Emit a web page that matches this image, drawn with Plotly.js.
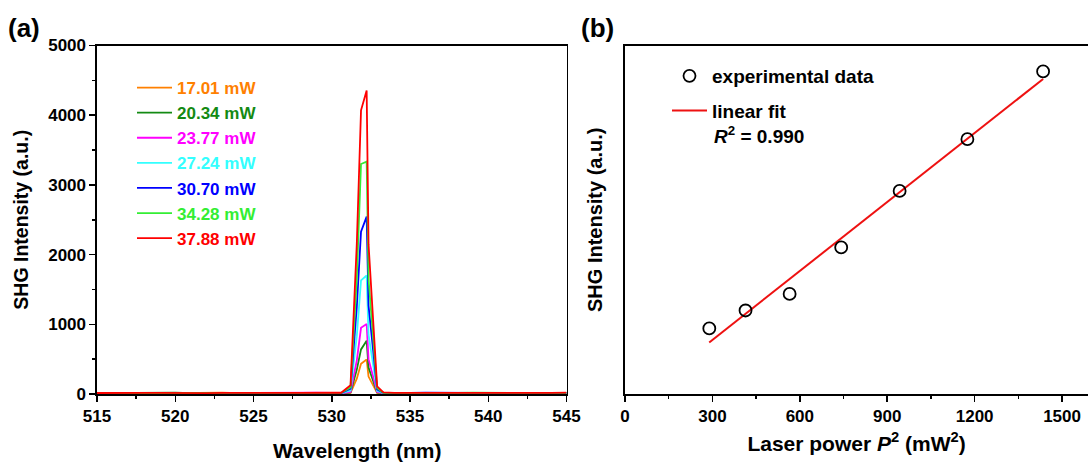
<!DOCTYPE html>
<html>
<head>
<meta charset="utf-8">
<script src="https://cdn.plot.ly/plotly-3.0.1.min.js"></script>
<style>html,body{margin:0;padding:0;background:#fff;}#chart{width:1088px;height:466px;}</style>
</head>
<body>
<div id="chart"></div>
<script>
// ---------- Panel (a): SHG spectra ----------
const wavelength = [515,516,517,518,519,520,521,522,523,524,525,526,527,528,529,530,
  530.6,531.2,531.6,531.87,532.23,532.35,532.9,533.3,
  534,535,536,537,538,539,540,541,542,543,544,545];

const powerLabels = ["17.01 mW","20.34 mW","23.77 mW","27.24 mW","30.70 mW","34.28 mW","37.88 mW"];
const seriesColors = ["#ff8000","#138a13","#ff00ff","#33ffff","#0000ff","#33ee33","#ff0000"];

const spec1701 = [14,16,12,18,15,13,17,14,19,12,16,15,13,18,14,16, 9,16,220,435,495,250,16,10, 15,13,17,12,16,14,18,13,15,17,12,14];
const spec2034 = [12,15,17,13,16,18,12,15,14,17,13,16,18,14,15,13, 10,22,350,640,765,380,22,12, 14,17,12,16,13,15,17,14,16,12,15,13];
const spec2377 = [16,13,15,17,12,14,18,13,16,15,17,12,14,16,18,15, 10,30,480,950,1003,500,28,12, 13,16,15,18,12,17,14,16,13,18,15,16];
const spec2724 = [13,17,14,12,18,15,13,17,12,16,14,18,15,13,16,14, 12,50,830,1630,1700,850,45,14, 17,12,16,14,18,13,15,12,17,14,16,15];
const spec3070 = [15,12,18,14,13,17,16,12,15,18,13,14,17,15,12,16, 14,75,1250,2330,2545,1270,65,16, 12,15,18,13,16,14,12,17,15,13,18,14];
const spec3428 = [17,14,13,16,15,12,14,18,13,15,16,17,12,14,17,15, 15,95,1650,3300,3335,1650,85,18, 16,14,13,17,15,18,16,14,12,16,13,17];
const spec3788 = [14,18,16,15,17,14,15,13,17,14,18,15,16,17,13,18, 18,125,2150,4070,4355,2150,110,22, 15,18,14,16,17,15,13,18,16,15,17,19];
const spectra = [spec1701,spec2034,spec2377,spec2724,spec3070,spec3428,spec3788];

const yTicksA = [0,1000,2000,3000,4000,5000];
const xTicksA = [515,520,525,530,535,540,545];

// ---------- Panel (b): SHG intensity vs P^2 ----------
const laserPowerSq = [289.3, 413.7, 565.0, 742.0, 942.5, 1175.1, 1434.9];
const shgIntensity = [480, 750, 1000, 1700, 2550, 3330, 4350];
const fitX = [289, 1435];
const fitY = [268, 4237];
const xTicksB = [0,300,600,900,1200,1500];
const r2Text = "<i>R</i><sup>2</sup> = 0.990";

// ---------- build ----------
const FONT = "Liberation Sans, Arial, Helvetica, sans-serif";
const W = 1088, H = 466;
const px = x => x / W;
const py = y => (H - y) / H;

const traces = [];
spectra.forEach((s, i) => {
  traces.push({
    type: "scatter", mode: "lines", x: wavelength, y: s,
    name: '<span style="color:' + seriesColors[i] + '">' + powerLabels[i] + '</span>',
    line: {color: seriesColors[i], width: 1.8},
    xaxis: "x", yaxis: "y", legend: "legend"
  });
});
traces.push({
  type: "scatter", mode: "lines", x: fitX, y: fitY, name: "linear fit",
  line: {color: "#ee1111", width: 2}, xaxis: "x2", yaxis: "y2",
  legend: "legend2", legendrank: 2, legendgroup: "fit"
});
traces.push({
  type: "scatter", mode: "markers", x: laserPowerSq, y: shgIntensity, name: "experimental data",
  marker: {symbol: "circle-open", size: 12, color: "#000", line: {width: 1.8, color: "#000"}},
  xaxis: "x2", yaxis: "y2", legend: "legend2", legendrank: 1, legendgroup: "exp"
});

const tickFont = {family: FONT, size: 17, color: "#000", weight: "bold"};
const axisCommon = {
  showgrid: false, zeroline: false, showline: true, linecolor: "#000", linewidth: 1.6,
  ticks: "outside", ticklen: 6, tickwidth: 1.5, tickcolor: "#000", tickfont: tickFont
};

const yDom = [py(394), py(45.5)];
const layout = {
  width: W, height: H,
  margin: {l: 0, r: 0, t: 0, b: 0},
  paper_bgcolor: "#fff", plot_bgcolor: "#fff",
  font: {family: FONT, color: "#000"},
  showlegend: true,
  xaxis: Object.assign({}, axisCommon, {
    domain: [px(97), px(566.5)], range: [515, 545], tickvals: xTicksA, mirror: true,
    minor: {dtick: 2.5, tick0: 515, ticks: "outside", ticklen: 3.5, tickwidth: 1.5, tickcolor: "#000"},
    anchor: "y"
  }),
  yaxis: Object.assign({}, axisCommon, {
    domain: yDom, range: [0, 5000], tickvals: yTicksA, mirror: true,
    minor: {dtick: 500, tick0: 0, ticks: "outside", ticklen: 3.5, tickwidth: 1.5, tickcolor: "#000"},
    title: {text: "SHG Intensity (a.u.)", font: {family: FONT, size: 19.5, weight: "bold", color: "#000"}, standoff: 14},
    anchor: "x"
  }),
  xaxis2: Object.assign({}, axisCommon, {
    domain: [px(625), 1], range: [0, 1589], tickvals: xTicksB, mirror: true,
    minor: {dtick: 150, tick0: 0, ticks: "outside", ticklen: 3.5, tickwidth: 1.5, tickcolor: "#000"},
    title: {text: "Laser power <i>P</i><sup>2</sup> (mW<sup>2</sup>)", font: {family: FONT, size: 21, weight: "bold", color: "#000"}, standoff: 11},
    anchor: "y2"
  }),
  yaxis2: Object.assign({}, axisCommon, {
    domain: yDom, range: [-508, 4741], ticks: "", showticklabels: false, mirror: false,
    title: {text: "SHG Intensity (a.u.)", font: {family: FONT, size: 20, weight: "bold", color: "#000"}, standoff: 15},
    anchor: "x2"
  }),
  legend: {
    x: px(132), y: py(70), xanchor: "left", yanchor: "top",
    bgcolor: "rgba(0,0,0,0)", borderwidth: 0, itemwidth: 35,
    font: {family: FONT, size: 17, weight: "bold", color: "#000"}
  },
  legend2: {
    x: px(667), y: py(57), xanchor: "left", yanchor: "top",
    bgcolor: "rgba(0,0,0,0)", borderwidth: 0, itemwidth: 35, traceorder: "grouped", tracegroupgap: 7,
    font: {family: FONT, size: 19, weight: "bold", color: "#000"}
  },
  annotations: [
    {text: "Wavelength (nm)", xref: "paper", yref: "paper", x: px(357), y: py(450),
     xanchor: "center", yanchor: "middle", showarrow: false,
     font: {family: FONT, size: 21, weight: "bold", color: "#000"}},
    {text: "(a)", xref: "paper", yref: "paper", x: px(6), y: py(28),
     xanchor: "left", yanchor: "middle", showarrow: false,
     font: {family: FONT, size: 26, weight: "bold", color: "#000"}},
    {text: "(b)", xref: "paper", yref: "paper", x: px(579), y: py(28),
     xanchor: "left", yanchor: "middle", showarrow: false,
     font: {family: FONT, size: 26, weight: "bold", color: "#000"}},
    {text: r2Text, xref: "paper", yref: "paper", x: px(712), y: py(135),
     xanchor: "left", yanchor: "middle", showarrow: false,
     font: {family: FONT, size: 19, weight: "bold", color: "#000"}}
  ]
};

Plotly.newPlot("chart", traces, layout, {displayModeBar: false, staticPlot: true});
</script>
</body>
</html>
